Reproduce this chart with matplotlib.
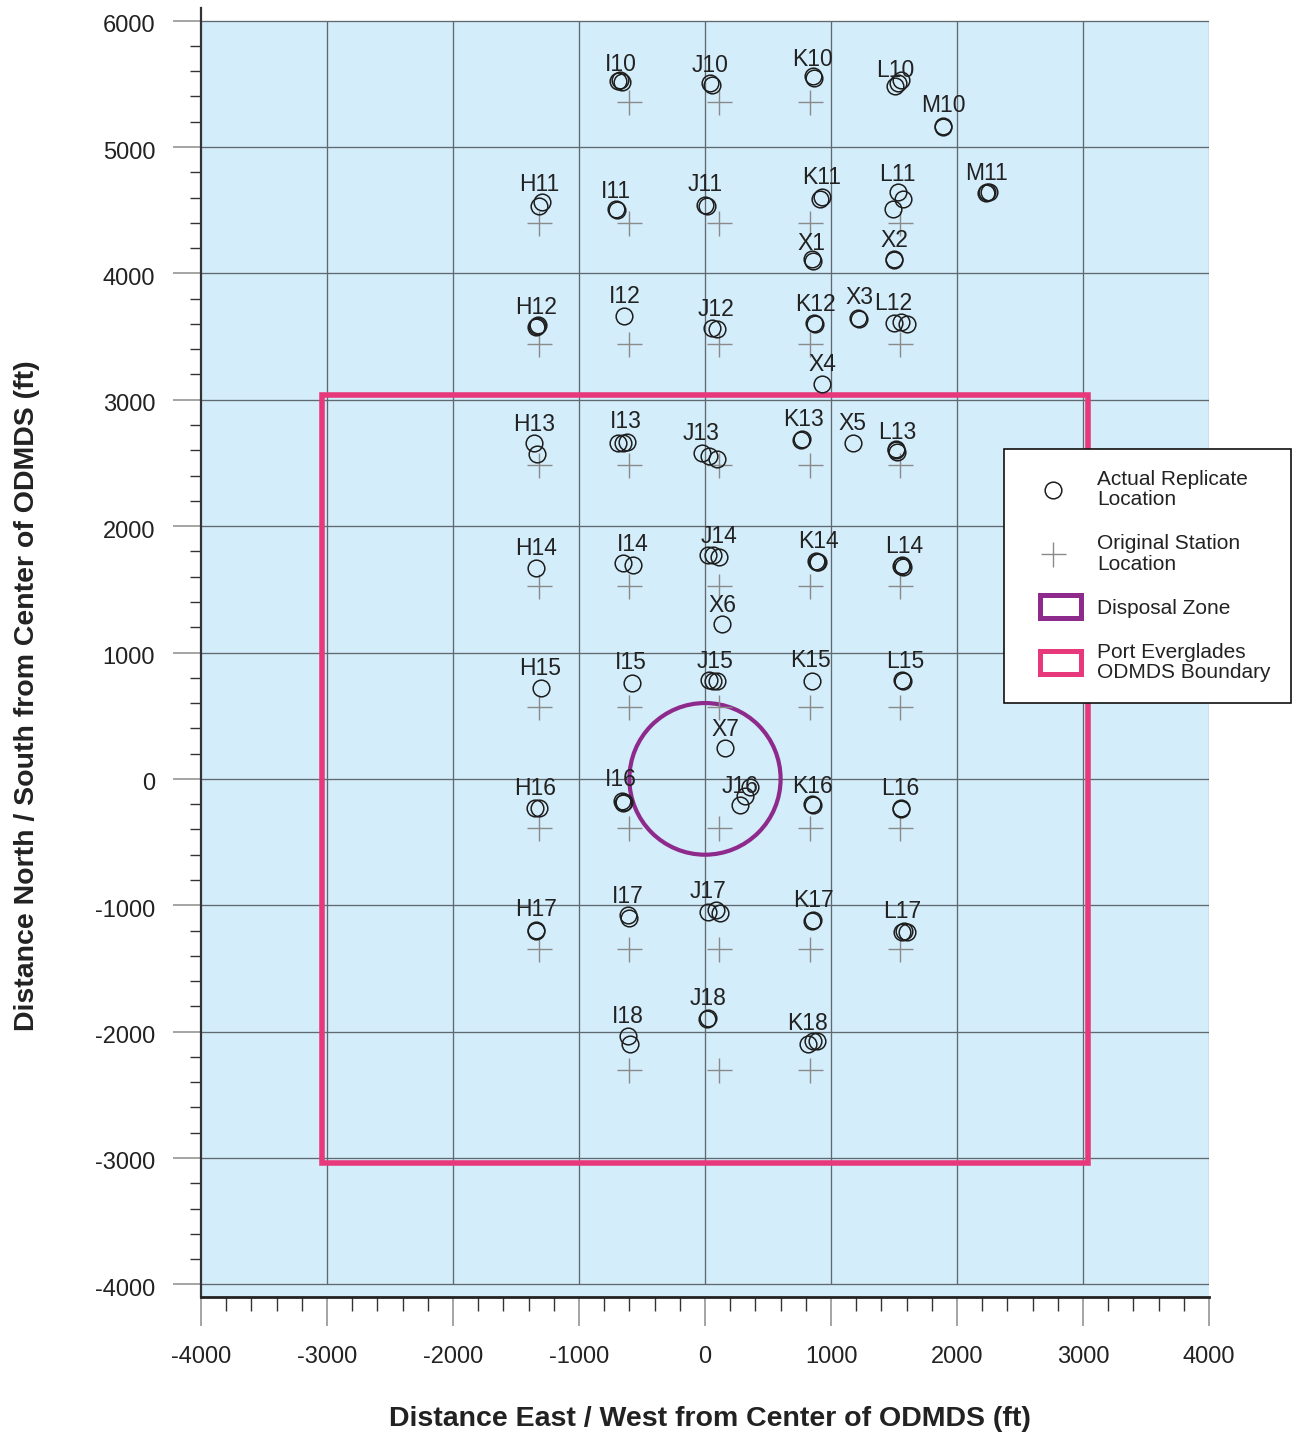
import matplotlib
matplotlib.use('Agg')
import matplotlib.pyplot as plt
from matplotlib.patches import Rectangle, Circle, Patch
from matplotlib.lines import Line2D
from matplotlib.legend_handler import HandlerPatch
from matplotlib.ticker import MultipleLocator
from matplotlib.transforms import ScaledTranslation

plt.rcParams['font.family'] = ['Liberation Sans', 'DejaVu Sans']
plt.rcParams['axes.unicode_minus'] = False

# ---------------- data (ft) ----------------
col_names = ['H', 'I', 'J', 'K', 'L']
col_x = [-1318, -603, 112, 830, 1548]
row_names = ['10', '11', '12', '13', '14', '15', '16', '17', '18']
row_y = [5360, 4402, 3444, 2486, 1528, 570, -388, -1346, -2304]

orig_stations = ['I10', 'J10', 'K10',
                 'H11', 'I11', 'J11', 'K11', 'L11',
                 'H12', 'I12', 'J12', 'K12', 'L12',
                 'H13', 'I13', 'J13', 'K13', 'L13',
                 'H14', 'I14', 'J14', 'K14', 'L14',
                 'H15', 'I15', 'J15', 'K15', 'L15',
                 'H16', 'I16', 'J16', 'K16', 'L16',
                 'H17', 'I17', 'J17', 'K17', 'L17',
                 'I18', 'J18', 'K18']

rep_station = (['I10'] * 3 + ['J10'] * 2 + ['K10'] * 2 + ['L10'] * 3 + ['M10'] * 2 +
               ['H11'] * 2 + ['I11'] * 2 + ['J11'] * 2 + ['K11'] * 2 + ['L11'] * 3 +
               ['M11'] * 3 + ['X1'] * 2 + ['X2'] * 2 +
               ['H12'] * 3 + ['I12'] + ['J12'] * 2 + ['K12'] * 2 + ['X3'] * 2 +
               ['L12'] * 3 + ['X4'] +
               ['H13'] * 2 + ['I13'] * 3 + ['J13'] * 3 + ['K13'] * 2 + ['X5'] + ['L13'] * 3 +
               ['H14'] + ['I14'] * 2 + ['J14'] * 3 + ['K14'] * 3 + ['L14'] * 3 + ['X6'] +
               ['H15'] + ['I15'] + ['J15'] * 3 + ['K15'] + ['L15'] * 2 + ['X7'] +
               ['H16'] * 2 + ['I16'] * 3 + ['J16'] * 3 + ['K16'] * 2 + ['L16'] * 2 +
               ['H17'] * 2 + ['I17'] * 2 + ['J17'] * 3 + ['K17'] * 2 + ['L17'] * 3 +
               ['I18'] * 2 + ['J18'] * 2 + ['K18'] * 3)

rep_x = [-690, -659, -675, 40, 56, 857, 865, 1508, 1532, 1556, 1889, 1889,
         -1318, -1294, -706, -698, 0, 16, 913, 929, 1532, 1571, 1492,
         2238, 2254, 2230, 849, 857, 1500, 1500,
         -1333, -1325, -1341, -643, 56, 95, 865, 873, 1214, 1222,
         1500, 1556, 1603, 929,
         -1357, -1333, -690, -651, -619, -24, 32, 95, 770, 762, 1175, 1516, 1524, 1516,
         -1341, -651, -571, 24, 63, 111, 889, 897, 881, 1556, 1571, 1563, 135,
         -1302, -579, 32, 63, 95, 849, 1571, 1563, 159,
         -1349, -1318, -659, -643, -651, 278, 317, 357, 849, 857, 1556, 1556,
         -1341, -1341, -611, -603, 24, 87, 119, 849, 857, 1563, 1603, 1579,
         -611, -595, 16, 24, 817, 857, 889]

rep_y = [5519, 5511, 5527, 5510, 5487, 5558, 5550, 5480, 5503, 5527, 5163, 5155,
         4530, 4562, 4506, 4498, 4538, 4530, 4586, 4601, 4641, 4586, 4506,
         4641, 4641, 4633, 4111, 4095, 4111, 4103,
         3583, 3591, 3575, 3662, 3567, 3559, 3607, 3599, 3646, 3638,
         3607, 3614, 3599, 3127,
         2661, 2574, 2661, 2661, 2669, 2582, 2558, 2534, 2693, 2685, 2661, 2614, 2590, 2606,
         1671, 1711, 1695, 1774, 1774, 1758, 1719, 1719, 1726, 1687, 1679, 1695, 1227,
         718, 761, 785, 777, 777, 777, 777, 785, 246,
         -229, -229, -174, -182, -190, -206, -135, -63, -198, -206, -229, -237,
         -1195, -1203, -1076, -1100, -1052, -1037, -1060, -1124, -1116, -1211, -1211, -1203,
         -2036, -2099, -1901, -1893, -2099, -2075, -2075]

label_names = ['I10', 'J10', 'K10', 'L10', 'M10',
               'H11', 'I11', 'J11', 'K11', 'L11', 'M11', 'X1', 'X2',
               'H12', 'I12', 'J12', 'K12', 'X3', 'L12', 'X4',
               'H13', 'I13', 'J13', 'K13', 'X5', 'L13',
               'H14', 'I14', 'J14', 'K14', 'L14', 'X6',
               'H15', 'I15', 'J15', 'K15', 'L15', 'X7',
               'H16', 'I16', 'J16', 'K16', 'L16',
               'H17', 'I17', 'J17', 'K17', 'L17',
               'I18', 'J18', 'K18']
label_x = [-667, 40, 857, 1508, 1889,
           -1317, -706, 0, 929, 1524, 2238, 849, 1500,
           -1341, -635, 87, 873, 1230, 1492, 929,
           -1357, -627, -32, 778, 1167, 1524,
           -1341, -571, 111, 897, 1579, 135,
           -1310, -587, 79, 841, 1587, 159,
           -1349, -667, 278, 857, 1548,
           -1341, -611, 24, 857, 1563,
           -611, 24, 810]
label_y = [5670, 5662, 5710, 5622, 5345,
           4719, 4664, 4719, 4775, 4798, 4806, 4252, 4276,
           3745, 3832, 3729, 3769, 3824, 3777, 3295,
           2819, 2843, 2748, 2859, 2827, 2756,
           1838, 1869, 1933, 1893, 1854, 1386,
           887, 935, 943, 951, 943, 404,
           -63, 9, -47, -47, -63,
           -1021, -918, -879, -950, -1037,
           -1868, -1726, -1924]

boundary_half = 3038          # ODMDS boundary half-width (ft)
disposal_center = (0, 0)
disposal_radius = 600

x_ticks = [-4000, -3000, -2000, -1000, 0, 1000, 2000, 3000, 4000]
y_ticks = [-4000, -3000, -2000, -1000, 0, 1000, 2000, 3000, 4000, 5000, 6000]

legend_labels = ['Actual Replicate\nLocation', 'Original Station\nLocation',
                 'Disposal Zone', 'Port Everglades\nODMDS Boundary']

# ---------------- colours ----------------
BG = '#d4edfa'
GRID = '#5e6a70'
CROSS = '#8a8a8a'
PINK = '#e8387c'
PURPLE = '#8e2a8c'
TXT = '#222222'

# ---------------- figure ----------------
W, H = 1299, 1437
fig = plt.figure(figsize=(W / 100, H / 100), dpi=100)
ax = fig.add_axes([201 / W, 140 / H, 1008 / W, 1289 / H])
ax.set_facecolor('none')
ax.set_xlim(x_ticks[0], x_ticks[-1])
ax.set_ylim(-4100, 6100)

ax.add_patch(Rectangle((x_ticks[0], -4100), x_ticks[-1] - x_ticks[0], y_ticks[-1] + 4100,
                       fc=BG, ec='none', zorder=0))
ax.vlines(x_ticks[1:-1], y_ticks[0], y_ticks[-1], colors=GRID, lw=0.95, zorder=1)
ax.vlines([x_ticks[-1]], y_ticks[0], y_ticks[-1], colors='#aaaaaa', lw=1.0, zorder=1)
ax.hlines(y_ticks, x_ticks[0], x_ticks[-1], colors=GRID, lw=0.95, zorder=1)

# boundary and disposal zone
ax.add_patch(Rectangle((-boundary_half, -boundary_half), 2 * boundary_half, 2 * boundary_half,
                       fill=False, ec=PINK, lw=4.0, zorder=3, joinstyle='miter'))
ax.add_patch(Circle(disposal_center, disposal_radius, fill=False, ec=PURPLE, lw=3.0, zorder=3))

# original stations
cx = [col_x[col_names.index(s[0])] for s in orig_stations]
cy = [row_y[row_names.index(s[1:])] for s in orig_stations]
ax.plot(cx, cy, ls='none', marker='+', ms=18, mew=1.0, mec=CROSS, zorder=4)

# actual replicates
ax.plot(rep_x, rep_y, ls='none', marker='o', ms=12, mfc='none', mec='#1e1e1e', mew=1.1, zorder=5)

for name, lx, ly in zip(label_names, label_x, label_y):
    ax.annotate(name, (lx, ly), xytext=(0, -6), textcoords='offset points',
                ha='center', va='baseline', fontsize=16.5, color=TXT, zorder=6)

# axes styling
for s in ['top', 'right']:
    ax.spines[s].set_visible(False)
ax.spines['left'].set_color('#333333')
ax.spines['left'].set_linewidth(1.6)
ax.spines['bottom'].set_color('#222222')
ax.spines['bottom'].set_linewidth(2.0)

ax.set_xticks(x_ticks)
ax.set_yticks(y_ticks)
ax.xaxis.set_minor_locator(MultipleLocator(200))
ax.set_yticks([v for v in range(-4000, 6001, 200) if v % 1000 != 0], minor=True)
ax.tick_params(which='major', direction='out', width=1.1, color='#8c8c8c',
               labelsize=17, labelcolor=TXT)
ax.tick_params(axis='x', which='major', length=21, pad=14)
ax.tick_params(axis='y', which='major', length=20, pad=13)
ax.tick_params(which='minor', direction='out', width=1.0, color='#333333')
ax.tick_params(axis='x', which='minor', length=10)
ax.tick_params(axis='y', which='minor', length=8)
shift = ScaledTranslation(0, -3 / 100, fig.dpi_scale_trans)
for lab in ax.get_yticklabels():
    lab.set_transform(lab.get_transform() + shift)

ax.set_xlabel('Distance East / West from Center of ODMDS (ft)', fontsize=20.5,
              fontweight='bold', color=TXT)
ax.set_ylabel('Distance North / South from Center of ODMDS (ft)', fontsize=20.5,
              fontweight='bold', color=TXT)
ax.xaxis.label.set_va('center')
ax.yaxis.label.set_va('center')
ax.xaxis.set_label_coords((710 - 201) / 1008, (1297 - 1419) / 1289)
ax.yaxis.set_label_coords((27 - 201) / 1008, (1297 - 696) / 1289)

# legend
FS = 15


def rect_handle(legend, orig_handle, xdescent, ydescent, width, height, fontsize):
    off = 0.72 * fontsize
    h = 1.1 * fontsize
    return Rectangle((-xdescent + off, -ydescent + height / 2 - h / 2), width - off, h)


handles = [Line2D([], [], ls='none', marker='o', ms=12, mfc='none', mec='#1e1e1e', mew=1.1),
           Line2D([], [], ls='none', marker='+', ms=18, mew=1.0, mec=CROSS),
           Patch(fc='white', ec=PURPLE, lw=3.6),
           Patch(fc='white', ec=PINK, lw=3.6)]
leg = ax.legend(handles, legend_labels, loc='upper left',
                bbox_to_anchor=(1004 / W, 1 - 449 / H), bbox_transform=fig.transFigure,
                borderaxespad=0,
                fontsize=FS, frameon=True, fancybox=False, framealpha=1, borderpad=1.0,
                handlelength=2.69, handletextpad=0.77, labelspacing=1.2,
                handler_map={Patch: HandlerPatch(patch_func=rect_handle)})
leg.get_frame().set_edgecolor('#111111')
leg.get_frame().set_linewidth(1.2)
for t in leg.get_texts():
    t.set_linespacing(1.1)
    t.set_color(TXT)
leg.set_zorder(10)

fig.savefig('out.png', dpi=100)
